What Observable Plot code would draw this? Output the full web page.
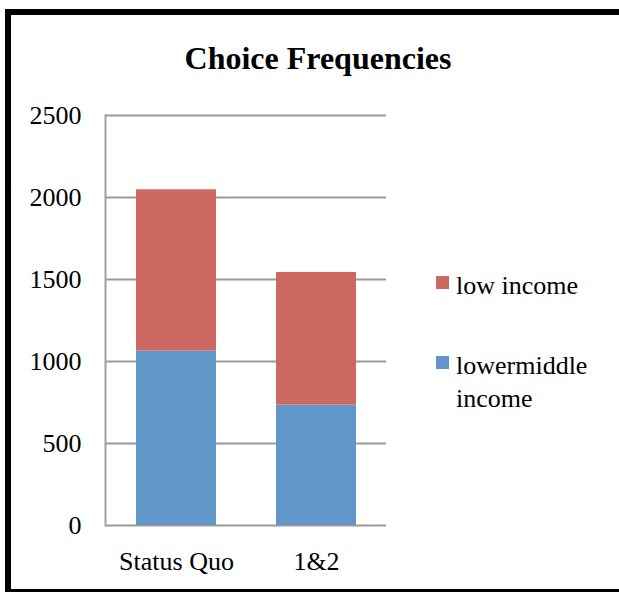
<!DOCTYPE html>
<html>
<head>
<meta charset="utf-8">
<script src="https://cdn.jsdelivr.net/npm/d3@7"></script>
<script src="https://cdn.jsdelivr.net/npm/@observablehq/plot@0.6"></script>
<style>
  html, body { margin: 0; padding: 0; background: #fff; overflow: hidden; }
  #wrap { position: relative; width: 619px; height: 592px; overflow: hidden; font-family: "Liberation Serif", serif; }
  #border { position: absolute; left: 5px; top: 9px; width: 700px; height: 574px; border-left: 6px solid #000; border-top: 6px solid #000; border-bottom: 6px solid #000; }
  #title { position: absolute; left: 0; width: 636px; top: 38px; text-align: center; font-weight: bold; font-size: 32px; line-height: 40px; color: #000; font-family: "Liberation Serif", serif; }
  #chart { position: absolute; left: 0; top: 90px; }
  #chart svg text { font-family: "Liberation Serif", serif; }
  .lg { position: absolute; font-size: 26px; line-height: 33px; color: #000; font-family: "Liberation Serif", serif; }
  .sw { position: absolute; width: 13px; height: 13px; }
</style>
</head>
<body>
<div id="wrap">
  <div id="border"></div>
  <div id="title">Choice Frequencies</div>
  <div id="chart"></div>
  <div id="legend"></div>
</div>
<script>
const categories = ["Status Quo", "1&2"];
const seriesNames = ["lowermiddle income", "low income"];
const lowermiddleIncome = [1063, 734];
const lowIncome = [984, 809];
const yTicks = [0, 500, 1000, 1500, 2000, 2500];
const seriesColors = ["#6096CA", "#CD6761"];

const rows = [];
categories.forEach((c, i) => {
  rows.push({category: c, series: seriesNames[0], value: lowermiddleIncome[i]});
  rows.push({category: c, series: seriesNames[1], value: lowIncome[i]});
});

const chart = Plot.plot({
  width: 400,
  height: 500,
  marginLeft: 105,
  marginRight: 14,
  marginTop: 25,
  marginBottom: 65,
  style: {fontFamily: '"Liberation Serif", serif', fontSize: "26px", color: "#000", background: "transparent"},
  x: {domain: categories, paddingInner: 0.43, paddingOuter: 0.215, label: null},
  y: {domain: [0, 2500], label: null},
  color: {domain: seriesNames, range: seriesColors},
  marks: [
    Plot.ruleY(yTicks, {stroke: "#9a9a9a", strokeWidth: 2, strokeOpacity: 1}),
    Plot.barY(rows, Plot.stackY({order: seriesNames, x: "category", y: "value", fill: "series", z: "series"})),
    Plot.frame({anchor: "left", stroke: "#a0a0a0", strokeWidth: 2}),
    Plot.axisY({ticks: yTicks, tickSize: 0, tickPadding: 24, label: null, tickFormat: d => String(d)}),
    Plot.axisX({tickSize: 0, tickPadding: 26, label: null})
  ]
});
document.getElementById("chart").appendChild(chart);

// legend (top series first)
const legend = document.getElementById("legend");
const legendItems = [
  {name: seriesNames[1], lines: ["low income"], color: seriesColors[1], top: 269},
  {name: seriesNames[0], lines: ["lowermiddle", "income"], color: seriesColors[0], top: 349}
];
legendItems.forEach(it => {
  const sw = document.createElement("div");
  sw.className = "sw";
  sw.style.left = "436px";
  sw.style.top = (it.top + 7) + "px";
  sw.style.background = it.color;
  legend.appendChild(sw);
  const t = document.createElement("div");
  t.className = "lg";
  t.style.left = "456px";
  t.style.top = it.top + "px";
  t.innerHTML = it.lines.join("<br>");
  legend.appendChild(t);
});
</script>
</body>
</html>
